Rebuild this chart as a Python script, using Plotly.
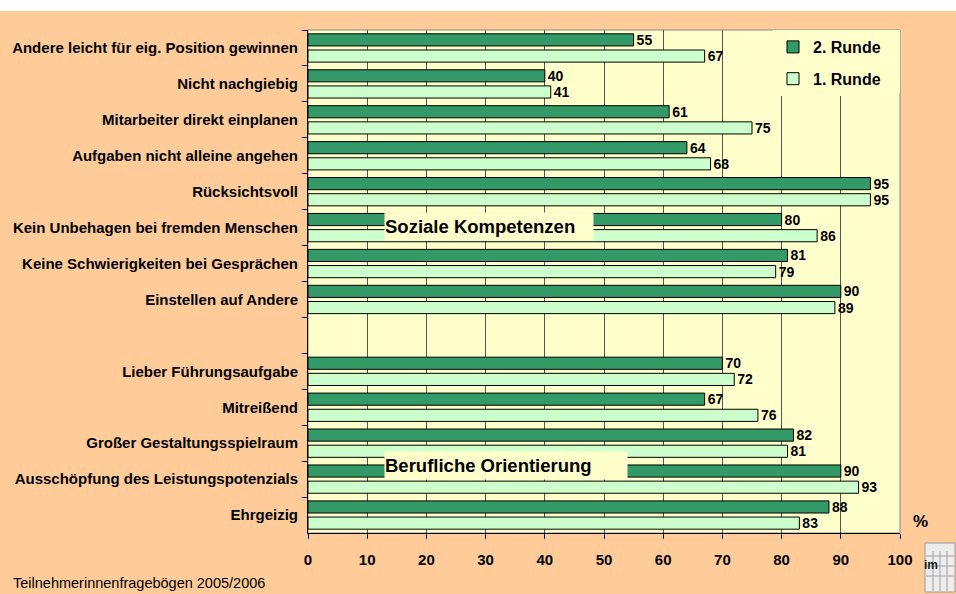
import plotly.graph_objects as go

categories = [
    "Andere leicht für eig. Position gewinnen",
    "Nicht nachgiebig",
    "Mitarbeiter direkt einplanen",
    "Aufgaben nicht alleine angehen",
    "Rücksichtsvoll",
    "Kein Unbehagen bei fremden Menschen",
    "Keine Schwierigkeiten bei Gesprächen",
    "Einstellen auf Andere",
    " ",
    "Lieber Führungsaufgabe",
    "Mitreißend",
    "Großer Gestaltungsspielraum",
    "Ausschöpfung des Leistungspotenzials",
    "Ehrgeizig",
]
runde2 = [55, 40, 61, 64, 95, 80, 81, 90, None, 70, 67, 82, 90, 88]
runde1 = [67, 41, 75, 68, 95, 86, 79, 89, None, 72, 76, 81, 93, 83]
x_ticks = [0, 10, 20, 30, 40, 50, 60, 70, 80, 90, 100]
series_names = ["2. Runde", "1. Runde"]
group_labels = ["Soziale Kompetenzen", "Berufliche Orientierung"]
footer = "Teilnehmerinnenfragebögen 2005/2006"

FONT = "Liberation Sans, Arial, sans-serif"
DARK = "#339966"
LIGHT = "#CCFFCC"
PEACH = "#FFCC99"
PLOTBG = "#FFFFCC"

W_PLOT = 592.0
H_PLOT = 503.0
L, T = 308, 30

def px(xp):
    return (xp - L) / W_PLOT

def py(yp):
    return (T + H_PLOT - yp) / H_PLOT

fig = go.Figure()
for name, vals, col, grp in [(series_names[0], runde2, DARK, "a"),
                             (series_names[1], runde1, LIGHT, "b")]:
    fig.add_trace(go.Bar(
        name=name, y=categories, x=vals, orientation="h",
        marker=dict(color=col, line=dict(color="#000000", width=1)),
        text=[("" if v is None else str(v)) for v in vals],
        textposition="outside", constraintext="none", cliponaxis=False,
        textfont=dict(family=FONT, size=14, color="#000000", weight="bold"),
        legendgroup=grp, hoverinfo="skip",
    ))

fig.update_layout(
    width=956, height=594,
    margin=dict(l=L, r=956 - L - int(W_PLOT), t=T, b=594 - T - int(H_PLOT)),
    paper_bgcolor=PEACH, plot_bgcolor=PLOTBG,
    barmode="group", bargap=0.1, bargroupgap=0.25,
    font=dict(family=FONT, color="#000000"),
    showlegend=True,
    legend=dict(x=1 - 14 / W_PLOT, xanchor="right", y=1, yanchor="top",
                bgcolor=PLOTBG, borderwidth=0, tracegroupgap=8,
                font=dict(family=FONT, size=16, weight="bold")),
    xaxis=dict(range=[0, 100], tickvals=x_ticks, showgrid=True,
               gridcolor="#555555", gridwidth=1,
               showline=True, linecolor="#000000", linewidth=1,
               ticks="outside", ticklen=5, tickcolor="#000000",
               ticklabelstandoff=8, zeroline=False,
               tickfont=dict(family=FONT, size=15, weight="bold")),
    yaxis=dict(categoryorder="array", categoryarray=categories,
               autorange="reversed", showgrid=False,
               showline=True, linecolor="#000000", linewidth=1,
               ticks="outside", ticklen=5, tickcolor="#000000",
               tickson="boundaries", ticklabelstandoff=6,
               tickfont=dict(family=FONT, size=15, weight="bold")),
)

# plot border
fig.add_shape(type="rect", xref="paper", yref="paper", x0=0, x1=1, y0=0, y1=1,
              line=dict(color="#888888", width=1), layer="below")
# legend area right of legend filled in yellow (legend box in reference reaches plot edge)
fig.add_shape(type="rect", xref="paper", yref="paper", x0=px(885), x1=1,
              y0=py(93), y1=1, line=dict(width=0), fillcolor=PLOTBG, layer="above")
# top white strip
fig.add_shape(type="rect", xref="paper", yref="paper", x0=px(0), x1=px(956),
              y0=py(11), y1=py(0),
              line=dict(width=0), fillcolor="#FFFFFF", layer="above")

# logo placeholder (light shield)
fig.add_shape(type="rect", xref="paper", yref="paper", x0=px(925), x1=px(955),
              y0=py(592), y1=py(543),
              line=dict(color="#9a9a9a", width=1), fillcolor="#EDEDED", layer="above")
for yy in [556, 566, 576]:
    fig.add_shape(type="line", xref="paper", yref="paper", x0=px(926), x1=px(954),
                  y0=py(yy), y1=py(yy), line=dict(color="#A0A0A0", width=1))
for xx in [933, 940, 947]:
    fig.add_shape(type="line", xref="paper", yref="paper", x0=px(xx), x1=px(xx),
                  y0=py(591), y1=py(551), line=dict(color="#A0A0A0", width=1))
fig.add_annotation(xref="paper", yref="paper", x=px(940), y=py(574),
                   text="<b>im</b>", showarrow=False,
                   font=dict(family=FONT, size=12, color="#222222"))

# group annotations
fig.add_annotation(xref="paper", yref="paper", x=px(384), y=py(226),
                   xanchor="left", yanchor="middle", text=group_labels[0],
                   showarrow=False, bgcolor=PLOTBG, width=208, height=27,
                   align="left", borderpad=0,
                   font=dict(family=FONT, size=18.5, weight="bold"))
fig.add_annotation(xref="paper", yref="paper", x=px(384), y=py(465),
                   xanchor="left", yanchor="middle", text=group_labels[1],
                   showarrow=False, bgcolor=PLOTBG, width=242, height=27,
                   align="left", borderpad=0,
                   font=dict(family=FONT, size=18.5, weight="bold"))

fig.add_annotation(xref="paper", yref="paper", x=px(920), y=py(521),
                   xanchor="center", yanchor="middle", text="%", showarrow=False,
                   font=dict(family=FONT, size=17, weight="bold"))
fig.add_annotation(xref="paper", yref="paper", x=px(11), y=py(583),
                   xanchor="left", yanchor="middle", text=footer, showarrow=False,
                   font=dict(family=FONT, size=14.5, color="#000000"))

fig.write_html("out.html", config={"displayModeBar": False, "staticPlot": True},
               post_script="document.body.style.margin='0';document.body.style.overflow='hidden';")
